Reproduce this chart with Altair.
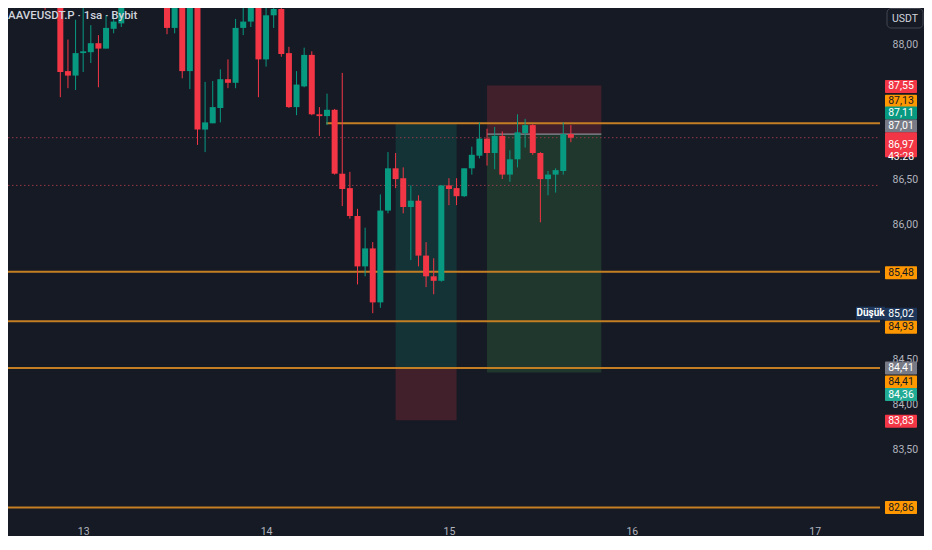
import altair as alt
import pandas as pd

# ---------------- colours ----------------
BG = "#161a25"
UP = "#089981"
DOWN = "#f23645"
ORANGE = "#ff9800"
LINE_ORANGE = "#c47f24"
GRAY = "#787b86"
NAVY = "#1d365a"
GREEN2 = "#22ab94"
TXT = "#b2b5be"

# ---------------- data: hourly candles (hour 0 = 13th 00:00) ----------------
hours = [-10, -9, -5, -4, -3, -2, -1, 0, 1, 2, 3, 4, 5, 11, 12, 13, 14, 15, 16, 17, 18, 19,
         20, 21, 22, 23, 24, 25, 26, 27, 28, 29, 30, 31, 32, 33, 34, 35, 36, 37, 38, 39, 40,
         41, 42, 43, 44, 45, 46, 47, 48, 49, 50, 51, 52, 53, 54, 55, 56, 57, 58, 59, 60, 61,
         62, 63, 64]
opens = [88.95, 88.60, 88.80, 88.44, 88.62, 87.71, 87.66, 87.91, 87.92, 88.02, 87.96, 88.18,
         88.24, 88.80, 88.19, 88.80, 87.71, 88.70, 87.06, 87.13, 87.30, 87.62, 87.58, 88.19,
         88.26, 88.60, 87.84, 88.33, 88.40, 87.91, 87.31, 87.54, 87.89, 87.23, 87.21, 87.28,
         86.57, 86.41, 86.10, 85.54, 85.74, 85.14, 86.16, 86.63, 86.52, 86.20, 86.27, 85.66,
         85.43, 85.38, 86.44, 86.41, 86.32, 86.63, 86.77, 86.96, 86.80, 86.99, 86.56, 86.73,
         87.02, 87.11, 86.80, 86.51, 86.56, 86.60, 87.01]
highs = [89.00, 89.00, 88.90, 88.90, 88.70, 88.06, 88.28, 88.46, 88.22, 88.11, 88.33, 88.34,
         88.70, 88.90, 88.90, 88.90, 88.80, 88.80, 87.59, 87.60, 87.73, 87.84, 88.29, 88.55,
         88.70, 88.70, 88.48, 88.46, 88.48, 87.98, 87.71, 87.97, 87.93, 87.31, 87.46, 87.29,
         87.69, 86.59, 86.18, 85.97, 85.81, 86.34, 86.81, 86.80, 86.64, 86.44, 86.33, 85.81,
         85.63, 86.44, 86.52, 86.52, 86.63, 86.87, 87.14, 87.07, 87.09, 87.04, 86.83, 87.23,
         87.18, 87.12, 86.81, 86.60, 86.63, 87.14, 87.11]
lows = [88.36, 88.41, 88.39, 88.42, 87.42, 87.52, 87.50, 87.70, 87.80, 87.53, 87.96, 88.13,
        88.20, 88.12, 88.13, 87.63, 87.51, 86.89, 86.81, 87.13, 87.14, 87.52, 87.52, 88.11,
        88.20, 87.42, 87.76, 88.19, 87.87, 87.30, 87.22, 87.53, 87.22, 86.99, 87.11, 86.56,
        86.21, 86.07, 85.34, 85.43, 85.02, 85.08, 86.13, 86.41, 86.13, 85.61, 85.54, 85.31,
        85.23, 85.37, 86.22, 86.22, 86.31, 86.56, 86.74, 86.66, 86.62, 86.51, 86.48, 86.64,
        86.86, 86.78, 86.03, 86.33, 86.36, 86.56, 86.92]
closes = [88.60, 88.90, 88.44, 88.80, 87.70, 87.66, 87.91, 87.93, 88.02, 87.96, 88.19, 88.26,
          88.55, 88.19, 88.80, 87.71, 88.70, 87.06, 87.14, 87.31, 87.62, 87.58, 88.19, 88.26,
          88.60, 87.84, 88.33, 88.40, 87.90, 87.31, 87.56, 87.89, 87.23, 87.21, 87.28, 86.57,
          86.40, 86.10, 85.54, 85.74, 85.14, 86.16, 86.63, 86.51, 86.20, 86.27, 85.66, 85.43,
          85.38, 86.44, 86.40, 86.32, 86.63, 86.78, 86.96, 86.80, 86.99, 86.56, 86.73, 87.03,
          87.11, 86.80, 86.51, 86.56, 86.61, 87.01, 86.97]

day_ticks = [0, 24, 48, 72, 96]
day_labels = ["13", "14", "15", "16", "17"]
# price-axis labels that are not hidden behind a badge
price_ticks = [83.5, 84.0, 84.5, 86.0, 86.5, 88.0]

# horizontal levels
level_prices = [85.48, 84.93, 84.41, 82.86]
ray_price = [87.13]
ray_start = [31.9]
dotted_prices = [86.97, 86.44]

# position tool boxes (long then short)
box_x1 = [41, 41, 53, 53]
box_x2 = [49, 49, 68, 68]
box_top = [87.13, 84.41, 87.55, 87.01]
box_bot = [84.41, 83.83, 87.01, 84.36]
box_fill = [UP, DOWN, DOWN, "#4caf50"]
entry_price = [87.01]

# price scale badges
badge_values = [87.55, 87.13, 87.11, 87.01, 86.97, 85.48, 85.02, 84.93, 84.41, 84.41, 84.36, 83.83, 82.86]
badge_texts = ["87,55", "87,13", "87,11", "87,01", "86,97\n43:28", "85,48", "85,02", "84,93",
               "84,41", "84,41", "84,36", "83,83", "82,86"]
badge_fill = [DOWN, ORANGE, UP, GRAY, DOWN, ORANGE, NAVY, ORANGE, GRAY, ORANGE, GREEN2, DOWN, ORANGE]
badge_ink = ["#ffffff", "#131722", "#ffffff", "#ffffff", "#ffffff", "#131722", "#ffffff",
             "#131722", "#ffffff", "#131722", "#ffffff", "#ffffff", "#131722"]
# layout: vertical nudge (px) and badge height (px)
badge_shift = [1, -22, -12, -8, 7, 1, 1, 6, 0, 14, 22, 1, 0]
badge_h = [13, 13, 13, 13, 25, 13, 13, 13, 13, 13, 13, 13, 13]

# ---------------- layout ----------------
W, H = 872, 512
X_DOM = [-9.211, 103.914]
Y_DOM = [82.7222, 88.4111]
PPU = H / (Y_DOM[1] - Y_DOM[0])

xs = alt.Scale(domain=X_DOM, nice=False, zero=False)
ys = alt.Scale(domain=Y_DOM, nice=False, zero=False)

candles = pd.DataFrame({"h": hours, "o": opens, "hi": highs, "lo": lows, "c": closes})
candles["col"] = [UP if c >= o else DOWN for o, c in zip(opens, closes)]

label_expr = "{" + ",".join(f"'{t}':'{l}'" for t, l in zip(day_ticks, day_labels)) + "}[datum.value]"

x_axis = alt.Axis(values=day_ticks, labelExpr=label_expr, grid=False, ticks=False, domain=False,
                  labelColor=TXT, labelFontSize=10.5, labelPadding=6, labelFont="Roboto",
                  title=None)
y_axis = alt.Axis(orient="right", values=price_ticks,
                  labelExpr="replace(format(datum.value, '.2f'), '.', ',')",
                  grid=False, ticks=False, domain=False, labelColor=TXT, labelFontSize=10.5,
                  labelPadding=12, labelFont="Roboto", title=None)

boxes = pd.DataFrame({"x1": box_x1, "x2": box_x2, "t": box_top, "b": box_bot, "f": box_fill})
box_layer = alt.Chart(boxes).mark_rect(opacity=0.2, clip=True).encode(
    x=alt.X("x1:Q", scale=xs, axis=x_axis), x2="x2:Q",
    y=alt.Y("t:Q", scale=ys, axis=y_axis), y2="b:Q",
    color=alt.Color("f:N", scale=None))

entry_layer = alt.Chart(pd.DataFrame({"p": entry_price, "x1": [box_x1[2]], "x2": [box_x2[2]]})).mark_rule(
    color="#8a8d96", strokeWidth=1.2, clip=True).encode(
    x=alt.X("x1:Q", scale=xs), x2="x2:Q", y=alt.Y("p:Q", scale=ys))

dotted_layer = alt.Chart(pd.DataFrame({"p": dotted_prices})).mark_rule(
    color="#b2404f", strokeWidth=1, strokeDash=[1.5, 2.5], opacity=0.8, clip=True).encode(
    y=alt.Y("p:Q", scale=ys), x=alt.value(0), x2=alt.value(W))

wicks = alt.Chart(candles).mark_rule(strokeWidth=1, clip=True).encode(
    x=alt.X("h:Q", scale=xs), y=alt.Y("lo:Q", scale=ys), y2="hi:Q",
    color=alt.Color("col:N", scale=None))
bodies = alt.Chart(candles).mark_bar(size=6, clip=True).encode(
    x=alt.X("h:Q", scale=xs), y=alt.Y("o:Q", scale=ys), y2="c:Q",
    color=alt.Color("col:N", scale=None))

levels_layer = alt.Chart(pd.DataFrame({"p": level_prices})).mark_rule(
    color=LINE_ORANGE, strokeWidth=2, clip=True).encode(
    y=alt.Y("p:Q", scale=ys), x=alt.value(0), x2=alt.value(W))
ray_layer = alt.Chart(pd.DataFrame({"p": ray_price, "s": ray_start})).mark_rule(
    color=LINE_ORANGE, strokeWidth=2, clip=True).encode(
    y=alt.Y("p:Q", scale=ys), x=alt.X("s:Q", scale=xs), x2=alt.value(W))

bd = pd.DataFrame({"v": badge_values, "txt": badge_texts, "f": badge_fill, "ink": badge_ink,
                   "shift": badge_shift, "hh": badge_h})
bd["mid"] = bd["v"] - bd["shift"] / PPU
bd["top"] = bd["mid"] + bd["hh"] / 2 / PPU
bd["bot"] = bd["mid"] - bd["hh"] / 2 / PPU

badge_rects = alt.Chart(bd).mark_rect(cornerRadius=1).encode(
    x=alt.value(W + 5), x2=alt.value(W + 37),
    y=alt.Y("top:Q", scale=ys), y2="bot:Q",
    color=alt.Color("f:N", scale=None))
badge_text = alt.Chart(bd).mark_text(fontSize=10.5, font="Roboto", lineBreak="\n", lineHeight=12,
                                     baseline="middle", align="center").encode(
    x=alt.value(W + 21), y=alt.Y("mid:Q", scale=ys), text="txt:N",
    color=alt.Color("ink:N", scale=None))

low_df = pd.DataFrame({"v": [badge_values[6]], "lab": ["Düşük"]})
low_df["top"] = low_df["v"] + 6.5 / PPU
low_df["bot"] = low_df["v"] - 6.5 / PPU
low_rect = alt.Chart(low_df).mark_rect().encode(
    x=alt.value(W - 24), x2=alt.value(W + 5), y=alt.Y("top:Q", scale=ys), y2="bot:Q",
    color=alt.value(NAVY))
low_text = alt.Chart(low_df).mark_text(fontSize=10, font="Roboto", fontWeight="bold", color="#ffffff",
                                       baseline="middle", align="center").encode(
    x=alt.value(W - 9.5), y=alt.Y("v:Q", scale=ys), text="lab:N")

title_layer = alt.Chart(pd.DataFrame({"t": ["AAVEUSDT.P · 1sa · Bybit"]})).mark_text(
    fontSize=11.5, font="Roboto", fontWeight=500, color="#d1d4dc", align="left",
    baseline="middle").encode(x=alt.value(0), y=alt.value(8), text="t:N")

usdt_box = alt.Chart(pd.DataFrame({"t": ["USDT"]})).mark_rect(
    cornerRadius=4, stroke="#434651", strokeWidth=1, fill=BG).encode(
    x=alt.value(W + 7), x2=alt.value(W + 43), y=alt.value(0.5), y2=alt.value(20))
usdt_text = alt.Chart(pd.DataFrame({"t": ["USDT"]})).mark_text(
    fontSize=10.5, font="Roboto", color="#d1d4dc", align="center", baseline="middle").encode(
    x=alt.value(W + 25), y=alt.value(10.5), text="t:N")

chart = alt.layer(
    box_layer, entry_layer, dotted_layer, levels_layer, ray_layer, wicks, bodies,
    badge_rects, badge_text, low_rect, low_text, title_layer, usdt_box, usdt_text
).properties(
    width=W, height=H, background=BG,
    padding={"left": 0, "top": 0, "right": 44, "bottom": 16},
    autosize=alt.AutoSizeParams(type="none"),
).configure_view(stroke=None)

chart.save("out.html", embed_options={"renderer": "svg", "actions": False})
